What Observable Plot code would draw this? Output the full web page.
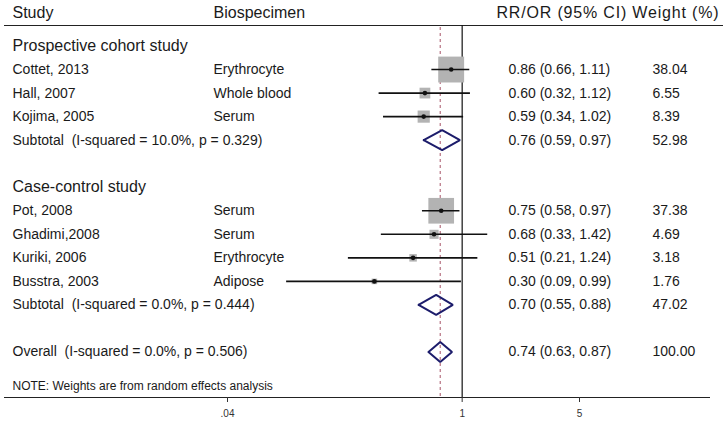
<!DOCTYPE html>
<html><head><meta charset="utf-8">
<script src="https://cdn.jsdelivr.net/npm/d3@7"></script>
<script src="https://cdn.jsdelivr.net/npm/@observablehq/plot@0.6"></script>
<style>body{margin:0;background:#fff}</style>
</head><body><div id="chart"></div>
<script>
// ---- data ----
const groupNames = ["Prospective cohort study", "Case-control study"];
const studies = ["Cottet, 2013", "Hall, 2007", "Kojima, 2005", "Pot, 2008", "Ghadimi,2008", "Kuriki, 2006", "Busstra, 2003"];
const specimens = ["Erythrocyte", "Whole blood", "Serum", "Serum", "Serum", "Erythrocyte", "Adipose"];
const studyGroup = [0, 0, 0, 1, 1, 1, 1];
const estimates = [0.86, 0.60, 0.59, 0.75, 0.68, 0.51, 0.30];
const lowers = [0.66, 0.32, 0.34, 0.58, 0.33, 0.21, 0.09];
const uppers = [1.11, 1.12, 1.02, 0.97, 1.42, 1.24, 0.99];
const weights = [38.04, 6.55, 8.39, 37.38, 4.69, 3.18, 1.76];
const subtotalLabels = ["Subtotal  (I-squared = 10.0%, p = 0.329)", "Subtotal  (I-squared = 0.0%, p = 0.444)"];
const subtotalEst = [0.76, 0.70];
const subtotalLower = [0.59, 0.55];
const subtotalUpper = [0.97, 0.88];
const subtotalWeight = [52.98, 47.02];
const overallLabel = "Overall  (I-squared = 0.0%, p = 0.506)";
const overallEst = 0.74, overallLower = 0.63, overallUpper = 0.87, overallWeight = 100.00;
const headerTexts = ["Study", "Biospecimen", "RR/OR (95% CI) Weight (%)"];
const noteText = "NOTE: Weights are from random effects analysis";
const tickValues = [0.04, 1, 5];
const tickLabels = [".04", "1", "5"];

// ---- layout ----
const W = 723, H = 424;
const X_DOMAIN = [0.04, 5], X_RANGE = [227, 579];
const ROW_DOMAIN = [0, 13], ROW_RANGE = [45.5, 351.5];
const xs = d3.scaleLog().domain(X_DOMAIN).range(X_RANGE);
const ys = d3.scaleLinear().domain(ROW_DOMAIN).range(ROW_RANGE);
const HEADER_ROW = ys.invert(25), AXIS_ROW = ys.invert(397), DASH_TOP = ys.invert(27);
const DIAMOND_H = 10 / 23.54;
const fmt = v => v.toFixed(2);
const txt = s => s.replace(/  /g, " \u00a0");

// build rows from the group structure
let row = 0;
const groupRows = [], studyRows = [], subtotalRows = [];
groupNames.forEach((g, gi) => {
  groupRows.push({label: g, row: row++});
  studies.forEach((s, i) => { if (studyGroup[i] === gi) studyRows[i] = row++; });
  subtotalRows.push(row++);
  row++;
});
const overallRow = row;

const studyData = studies.map((s, i) => ({
  study: s, specimen: specimens[i], est: estimates[i], lo: lowers[i], hi: uppers[i],
  w: weights[i], row: studyRows[i],
  ci: `${fmt(estimates[i])} (${fmt(lowers[i])}, ${fmt(uppers[i])})`, wt: fmt(weights[i])
}));
const summaryData = subtotalLabels.map((l, i) => ({
  label: l, est: subtotalEst[i], lo: subtotalLower[i], hi: subtotalUpper[i], w: subtotalWeight[i], row: subtotalRows[i]
})).concat([{label: overallLabel, est: overallEst, lo: overallLower, hi: overallUpper, w: overallWeight, row: overallRow}])
  .map(d => ({...d, ci: `${fmt(d.est)} (${fmt(d.lo)}, ${fmt(d.hi)})`, wt: fmt(d.w)}));
const diamondPts = summaryData.flatMap(d => [
  {k: d.label, x: d.lo, y: d.row}, {k: d.label, x: d.est, y: d.row - DIAMOND_H},
  {k: d.label, x: d.hi, y: d.row}, {k: d.label, x: d.est, y: d.row + DIAMOND_H},
  {k: d.label, x: d.lo, y: d.row}
]);

const textColor = "#1a1a1a";
const FONT = "Arial, 'Liberation Sans', sans-serif";

const chart = Plot.plot({
  width: W, height: H,
  marginTop: 25, marginBottom: 27, marginLeft: 4, marginRight: 0,
  style: {fontFamily: FONT, background: "#fff", color: textColor},
  x: {type: "log", domain: X_DOMAIN, range: X_RANGE, axis: null},
  y: {domain: ROW_DOMAIN, range: ROW_RANGE, axis: null},
  r: {type: "sqrt", domain: [0, 100], range: [0, 23.7]},
  marks: [
    Plot.ruleY([HEADER_ROW], {x1: xs.invert(4), x2: xs.invert(723), stroke: "#222", strokeWidth: 1.2}),
    Plot.ruleY([AXIS_ROW], {x1: xs.invert(4), x2: xs.invert(710), stroke: "#222", strokeWidth: 1.2}),
    Plot.ruleX([1], {y1: HEADER_ROW, y2: AXIS_ROW, stroke: "#111", strokeWidth: 1.2}),
    Plot.ruleX([overallEst], {y1: DASH_TOP, y2: AXIS_ROW, stroke: "#a85468", strokeWidth: 1, strokeDasharray: "3,3"}),
    Plot.dot(studyData, {x: "est", y: "row", r: "w", symbol: "square", fill: "#b3b3b3", stroke: "none"}),
    Plot.ruleY(studyData, {y: "row", x1: "lo", x2: "hi", stroke: "#111", strokeWidth: 1.6}),
    Plot.dot(studyData, {x: "est", y: "row", r: 2.3, fill: "#111", stroke: "none"}),
    Plot.line(diamondPts, {x: "x", y: "y", z: "k", stroke: "#1c1c6b", strokeWidth: 2, strokeLinejoin: "miter", curve: "linear"}),
    Plot.axisX({ticks: tickValues, tickFormat: d => tickLabels[tickValues.indexOf(d)], tickSize: 5, tickPadding: 7,
      fontSize: 10, anchor: "bottom", label: null, stroke: "#333", fill: "#333"}),
    Plot.text([headerTexts[0]], {frameAnchor: "top-left", dx: 8, dy: -13, lineAnchor: "middle", textAnchor: "start", fontSize: 16, fill: textColor}),
    Plot.text([headerTexts[1]], {frameAnchor: "top-left", dx: 209, dy: -13, lineAnchor: "middle", textAnchor: "start", fontSize: 16, fill: textColor}),
    Plot.text([headerTexts[2]], {frameAnchor: "top-left", dx: 492, dy: -13, lineAnchor: "middle", textAnchor: "start", fontSize: 16, fill: textColor, className: "cihead"}),
    Plot.text(groupRows, {y: "row", text: "label", frameAnchor: "left", dx: 8, textAnchor: "start", fontSize: 16, fill: textColor}),
    Plot.text(studyData, {y: "row", text: "study", frameAnchor: "left", dx: 8, textAnchor: "start", fontSize: 14, fill: textColor}),
    Plot.text(studyData, {y: "row", text: "specimen", frameAnchor: "left", dx: 209, textAnchor: "start", fontSize: 14, fill: textColor}),
    Plot.text(studyData, {y: "row", text: "ci", frameAnchor: "left", dx: 504, textAnchor: "start", fontSize: 14, fill: textColor}),
    Plot.text(studyData, {y: "row", text: "wt", frameAnchor: "left", dx: 648, textAnchor: "start", fontSize: 14, fill: textColor}),
    Plot.text(summaryData, {y: "row", text: d => txt(d.label), frameAnchor: "left", dx: 8, textAnchor: "start", fontSize: 14, fill: textColor}),
    Plot.text(summaryData, {y: "row", text: "ci", frameAnchor: "left", dx: 504, textAnchor: "start", fontSize: 14, fill: textColor}),
    Plot.text(summaryData, {y: "row", text: "wt", frameAnchor: "left", dx: 648, textAnchor: "start", fontSize: 14, fill: textColor}),
    Plot.text([noteText], {frameAnchor: "bottom-left", dx: 8, dy: -11, lineAnchor: "middle", textAnchor: "start", fontSize: 12, fill: textColor})
  ]
});
// the reference's right-hand header runs to the page edge
chart.querySelectorAll(".cihead text").forEach(t => {
  t.setAttribute("textLength", 222);
  t.setAttribute("lengthAdjust", "spacing");
});
document.getElementById("chart").appendChild(chart);
</script>
</body></html>
